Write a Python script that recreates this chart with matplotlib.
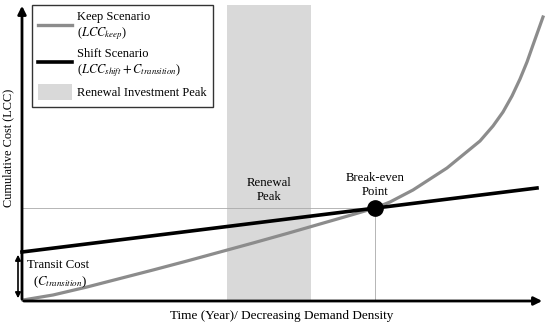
import matplotlib.pyplot as plt
from matplotlib.patches import Patch
from matplotlib.lines import Line2D

plt.rcParams['font.family'] = ['Liberation Serif', 'DejaVu Serif']
plt.rcParams['mathtext.fontset'] = 'stix'

# conceptual diagram, coordinates in figure pixels (y grows downward)
keep_x = [23, 53, 87, 120, 153, 187, 220, 253, 287, 320, 353, 375, 390, 413, 447,
          480, 493, 503, 512, 520, 527, 533, 538, 543]
keep_y = [300, 295, 287, 278.5, 270, 261, 252, 243, 233.5, 224, 214.5, 208, 202, 190, 168,
          141, 126, 112, 96, 79, 62, 45, 31, 17]
shift_x = [22, 537]
shift_y = [252, 188]
renewal_x = [227, 311]
breakeven = (375, 208)
axis_origin = (22, 301)

fig = plt.figure(figsize=(5.5, 3.27), dpi=100)
ax = fig.add_axes([0, 0, 1, 1])
ax.set_xlim(0, 550)
ax.set_ylim(327, 0)
ax.axis('off')

# renewal peak band
ax.fill_between(renewal_x, 5, axis_origin[1], color='#d9d9d9', lw=0, zorder=1)

# guide lines to break-even
ax.plot([axis_origin[0], breakeven[0]], [breakeven[1], breakeven[1]], color='#aaaaaa', lw=0.6, zorder=2)
ax.plot([breakeven[0], breakeven[0]], [breakeven[1], axis_origin[1]], color='#aaaaaa', lw=0.6, zorder=2)

ax.plot(keep_x, keep_y, color='#8c8c8c', lw=2.3, zorder=3, solid_joinstyle='round')
ax.plot(shift_x, shift_y, color='black', lw=2.6, zorder=4)
ax.plot(*breakeven, 'o', color='black', ms=11, zorder=5)

# axes arrows
ax.annotate('', xy=(545, axis_origin[1]), xytext=(axis_origin[0] - 1, axis_origin[1]),
            arrowprops=dict(arrowstyle='-|>', color='black', lw=2, mutation_scale=12))
ax.annotate('', xy=(axis_origin[0], 3), xytext=(axis_origin[0], axis_origin[1] + 1),
            arrowprops=dict(arrowstyle='-|>', color='black', lw=2, mutation_scale=12))

# transit cost arrow
ax.annotate('', xy=(18, shift_y[0]), xytext=(18, axis_origin[1]),
            arrowprops=dict(arrowstyle='<|-|>', color='black', lw=1.2, mutation_scale=8))
ax.text(27, 265, 'Transit Cost', fontsize=9.2, va='center', ha='left')
ax.text(33, 282, r'($C_{transition}$)', fontsize=9.2, va='center', ha='left')

ax.text(269, 190, 'Renewal\nPeak', fontsize=9.2, ha='center', va='center', linespacing=1.15)
ax.text(375, 185, 'Break-even\nPoint', fontsize=9.2, ha='center', va='center', linespacing=1.15)

ax.text(8, 148, 'Cumulative Cost (LCC)', fontsize=8.8, rotation=90, ha='center', va='center')
ax.text(282, 316, 'Time (Year)/ Decreasing Demand Density', fontsize=9.5, ha='center', va='center')

handles = [Line2D([], [], color='#8c8c8c', lw=2.4),
           Line2D([], [], color='black', lw=2.6),
           Patch(facecolor='#d9d9d9', edgecolor='none')]
labels = ['Keep Scenario\n($LCC_{keep}$)',
          'Shift Scenario\n($LCC_{shift} + C_{transition}$)',
          'Renewal Investment Peak']
leg = ax.legend(handles, labels, loc='upper left', bbox_to_anchor=(32 / 550, 1 - 5 / 327),
                borderaxespad=0, fontsize=9, frameon=True, fancybox=False, edgecolor='black',
                handlelength=2.7, handleheight=1.6, handletextpad=0.4,
                borderpad=0.5, labelspacing=0.45)
leg.get_frame().set_linewidth(1.0)

fig.savefig('out.png', dpi=100)
